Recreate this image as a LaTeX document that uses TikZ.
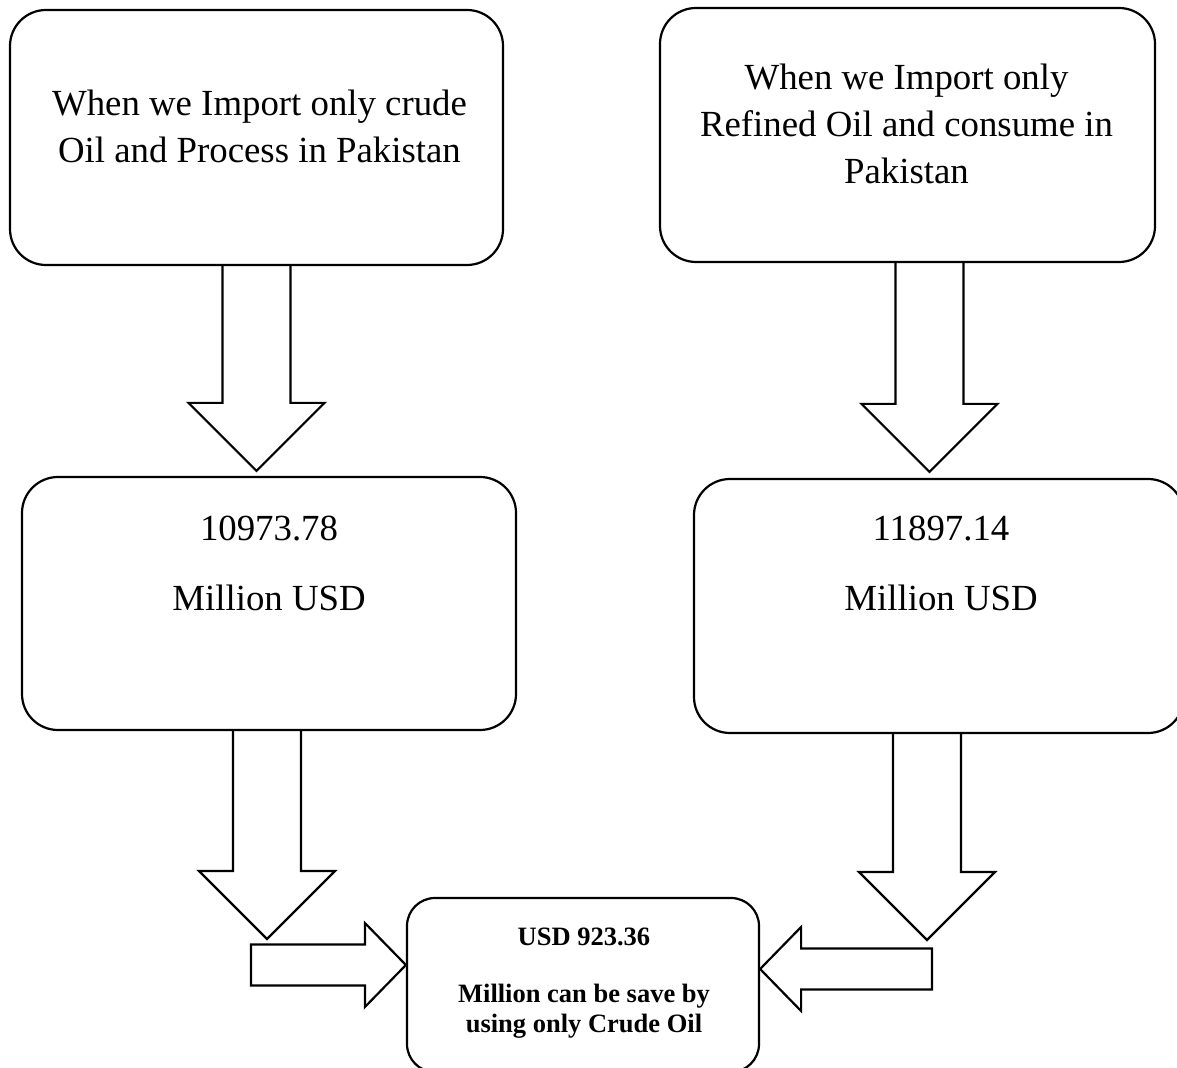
\documentclass[tikz,border=0pt]{standalone}
\usepackage{fontspec}
\setmainfont{Liberation Serif}
\usetikzlibrary{calc}

\begin{document}
\begin{tikzpicture}[x=0.5pt, y=-0.5pt,
		box/.style={draw, line width=1.1pt, rounded corners=18pt, inner sep=0pt},
		bigtxt/.style={align=center, anchor=north, inner sep=0pt, font=\fontsize{18.4}{23.5}\selectfont},
		smalltxt/.style={align=center, anchor=north, inner sep=0pt, font=\fontsize{13.25}{15.2}\selectfont\bfseries},
		fat/.style={draw, line width=1.1pt, line join=miter}]
	\def\dshaft{34}
	\def\dhead{68}
	\def\sshaft{20.5}
	\def\shead{42}
	\def\fatdown#1#2{\draw[fat] ($(#1)+(-\dshaft,0)$) -- ($(#2)+(-\dshaft,-\dhead)$) -- ($(#2)+(-\dhead,-\dhead)$) -- (#2) -- ($(#2)+(\dhead,-\dhead)$) -- ($(#2)+(\dshaft,-\dhead)$) -- ($(#1)+(\dshaft,0)$);}
	\def\fatside#1#2#3{\draw[fat] ($(#1)+(0,-\sshaft)$) -- ($(#2)+(#3,-\sshaft)$) -- ($(#2)+(#3,-\shead)$) -- (#2) -- ($(#2)+(#3,\shead)$) -- ($(#2)+(#3,\sshaft)$) -- ($(#1)+(0,\sshaft)$) -- cycle;}

	\useasboundingbox (0,0) rectangle (1177,1068);

	% the four big boxes
	\node[box, minimum width=246.5pt, minimum height=127.5pt] (crude) at (256.5,137.5) {};
	\node[box, minimum width=247.5pt, minimum height=127pt] (refined) at (907.5,135) {};
	\node[box, minimum width=247pt, minimum height=126.5pt] (crudecost) at (269,603.5) {};
	\node[box, minimum width=245pt, minimum height=127pt] (refinedcost) at (939,606) {};
	\node[box, rounded corners=14pt, minimum width=176pt, minimum height=87pt] (saving) at (583,985) {};

	\node[bigtxt] (crudetxt) at ($(crude.north)+(3,81)$) {When we Import only crude\\Oil and Process in Pakistan};
	\node[bigtxt] (refinedtxt) at ($(refined.north)+(-1,57)$) {When we Import only\\Refined Oil and consume in\\Pakistan};
	\node[bigtxt] (crudecosttxt) at ($(crudecost.north)+(0,40)$) {10973.78\\[11.5pt]Million USD};
	\node[bigtxt] (refinedcosttxt) at ($(refinedcost.north)+(2,38)$) {11897.14\\[11.5pt]Million USD};
	\node[smalltxt] (savingtxt) at ($(saving.north)+(1,31)$) {USD 923.36\\[13pt]Million can be save by\\using only Crude Oil};

	% block arrows
	\coordinate (crudetip) at (267,939);
	\coordinate (refinedtip) at (927,940);
	\coordinate (lefttail) at (251,965);
	\coordinate (righttail) at (932,969);

	\fatdown{crude.south}{$(crude.south |- crudecost.north)+(0,-5)$}
	\fatdown{$(refined.south)+(22,0)$}{$(refined.south |- refinedcost.north)+(22,-6)$}
	\fatdown{crudecost.south -| crudetip}{crudetip}
	\fatdown{refinedcost.south -| refinedtip}{refinedtip}
	\fatside{lefttail}{saving.west |- lefttail}{-41}
	\fatside{righttail}{saving.east |- righttail}{41}
\end{tikzpicture}
\end{document}
